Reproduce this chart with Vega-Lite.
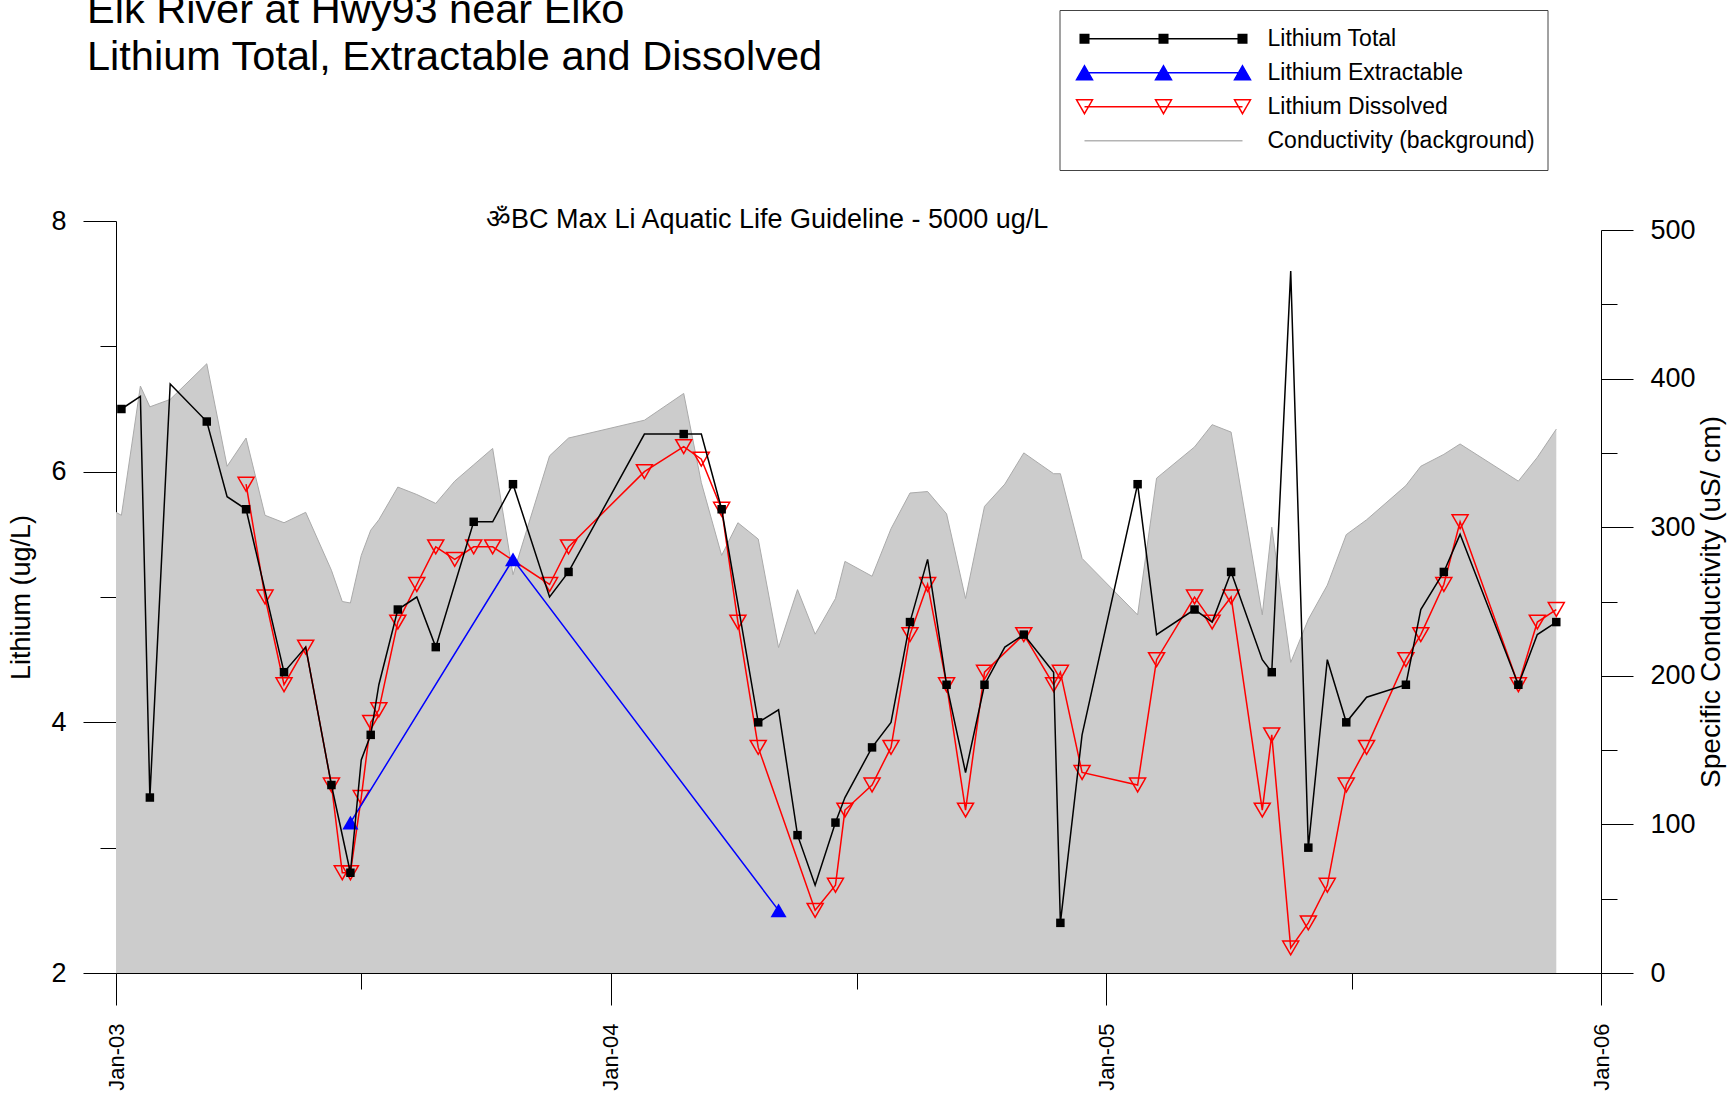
{
  "$schema": "https://vega.github.io/schema/vega-lite/v6.json",
  "width": 1485,
  "height": 752,
  "autosize": {"type": "none"},
  "padding": {"left": 116, "top": 221, "right": 127, "bottom": 120},
  "background": "#ffffff",
  "config": {
    "view": {"stroke": null},
    "font": "Liberation Sans",
    "axis": {"labelFont": "Liberation Sans", "titleFont": "Liberation Sans", "labelColor": "#000000", "titleColor": "#000000", "domainColor": "#000000", "tickColor": "#000000", "domainWidth": 1, "tickWidth": 1, "grid": false, "titleFontWeight": "normal", "zindex": 1, "labelOverlap": false, "labelFlush": false}
  },
  "title": {
    "text": ["Elk River at Hwy93 near Elko", "Lithium Total, Extractable and Dissolved"],
    "anchor": "start", "frame": "group", "orient": "top",
    "font": "Liberation Sans", "fontSize": 41.5, "fontWeight": "normal", "color": "#000000",
    "lineHeight": 47, "dx": -29, "dy": 69, "offset": 0
  },
  "datasets": {
    "samples": [
      {"date":"2003-01-01","conductivity":310},
      {"date":"2003-01-05","conductivity":308,"total":6.5,"total_marker":true},
      {"date":"2003-01-19","conductivity":395,"total":6.6,"total_marker":false},
      {"date":"2003-01-26","conductivity":381,"total":3.4,"total_marker":true},
      {"date":"2003-02-10","conductivity":386,"total":6.7,"total_marker":false},
      {"date":"2003-03-09","conductivity":410,"total":6.4,"total_marker":true},
      {"date":"2003-03-24","conductivity":341,"total":5.8,"total_marker":false},
      {"date":"2003-04-07","conductivity":360,"total":5.7,"total_marker":true,"dissolved":5.9},
      {"date":"2003-04-21","conductivity":308,"dissolved":5.0},
      {"date":"2003-05-05","conductivity":303,"total":4.4,"total_marker":true,"dissolved":4.3},
      {"date":"2003-05-21","conductivity":310,"total":4.6,"total_marker":false,"dissolved":4.6},
      {"date":"2003-06-09","conductivity":271,"total":3.5,"total_marker":true,"dissolved":3.5},
      {"date":"2003-06-17","conductivity":250,"dissolved":2.8},
      {"date":"2003-06-23","conductivity":249,"total":2.8,"total_marker":true,"dissolved":2.8,"extractable":3.2},
      {"date":"2003-07-01","conductivity":281,"total":3.7,"total_marker":false,"dissolved":3.4},
      {"date":"2003-07-08","conductivity":298,"total":3.9,"total_marker":true,"dissolved":4.0},
      {"date":"2003-07-14","conductivity":305,"total":4.3,"total_marker":false,"dissolved":4.1},
      {"date":"2003-07-28","conductivity":327,"total":4.9,"total_marker":true,"dissolved":4.8},
      {"date":"2003-08-11","conductivity":322,"total":5.0,"total_marker":false,"dissolved":5.1},
      {"date":"2003-08-25","conductivity":316,"total":4.6,"total_marker":true,"dissolved":5.4},
      {"date":"2003-09-08","conductivity":331,"dissolved":5.3},
      {"date":"2003-09-22","conductivity":342,"total":5.6,"total_marker":true,"dissolved":5.4},
      {"date":"2003-10-06","conductivity":353,"total":5.6,"total_marker":false,"dissolved":5.4},
      {"date":"2003-10-21","conductivity":268,"total":5.9,"total_marker":true,"extractable":5.3},
      {"date":"2003-11-17","conductivity":348,"total":5.0,"total_marker":false,"dissolved":5.1},
      {"date":"2003-12-01","conductivity":360,"total":5.2,"total_marker":true,"dissolved":5.4},
      {"date":"2004-01-26","conductivity":372,"total":6.3,"total_marker":false,"dissolved":6.0},
      {"date":"2004-02-24","conductivity":390,"total":6.3,"total_marker":true,"dissolved":6.2},
      {"date":"2004-03-08","conductivity":330,"total":6.3,"total_marker":false,"dissolved":6.1},
      {"date":"2004-03-23","conductivity":281,"total":5.7,"total_marker":true,"dissolved":5.7},
      {"date":"2004-04-04","conductivity":303,"dissolved":4.8},
      {"date":"2004-04-19","conductivity":292,"total":4.0,"total_marker":true,"dissolved":3.8},
      {"date":"2004-05-04","conductivity":219,"total":4.1,"total_marker":false,"extractable":2.5},
      {"date":"2004-05-18","conductivity":258,"total":3.1,"total_marker":true},
      {"date":"2004-05-31","conductivity":228,"total":2.7,"total_marker":false,"dissolved":2.5},
      {"date":"2004-06-15","conductivity":252,"total":3.2,"total_marker":true,"dissolved":2.7},
      {"date":"2004-06-22","conductivity":277,"total":3.4,"total_marker":false,"dissolved":3.3},
      {"date":"2004-07-12","conductivity":267,"total":3.8,"total_marker":true,"dissolved":3.5},
      {"date":"2004-07-26","conductivity":299,"total":4.0,"total_marker":false,"dissolved":3.8},
      {"date":"2004-08-09","conductivity":323,"total":4.8,"total_marker":true,"dissolved":4.7},
      {"date":"2004-08-22","conductivity":324,"total":5.3,"total_marker":false,"dissolved":5.1},
      {"date":"2004-09-05","conductivity":309,"total":4.3,"total_marker":true,"dissolved":4.3},
      {"date":"2004-09-19","conductivity":252,"total":3.6,"total_marker":false,"dissolved":3.3},
      {"date":"2004-10-03","conductivity":314,"total":4.3,"total_marker":true,"dissolved":4.4},
      {"date":"2004-10-18","conductivity":329,"total":4.6,"total_marker":false},
      {"date":"2004-11-01","conductivity":350,"total":4.7,"total_marker":true,"dissolved":4.7},
      {"date":"2004-11-23","conductivity":336,"total":4.4,"total_marker":false,"dissolved":4.3},
      {"date":"2004-11-28","conductivity":336,"total":2.4,"total_marker":true,"dissolved":4.4},
      {"date":"2004-12-14","conductivity":279,"total":3.9,"total_marker":false,"dissolved":3.6},
      {"date":"2005-01-24","conductivity":241,"total":5.9,"total_marker":true,"dissolved":3.5},
      {"date":"2005-02-07","conductivity":333,"total":4.7,"total_marker":false,"dissolved":4.5},
      {"date":"2005-03-07","conductivity":354,"total":4.9,"total_marker":true,"dissolved":5.0},
      {"date":"2005-03-20","conductivity":369,"total":4.8,"total_marker":false,"dissolved":4.8},
      {"date":"2005-04-03","conductivity":364,"total":5.2,"total_marker":true,"dissolved":5.0},
      {"date":"2005-04-26","conductivity":241,"total":4.5,"total_marker":false,"dissolved":3.3},
      {"date":"2005-05-03","conductivity":300,"total":4.4,"total_marker":true,"dissolved":3.9},
      {"date":"2005-05-17","conductivity":209,"total":7.6,"total_marker":false,"dissolved":2.2},
      {"date":"2005-05-30","conductivity":238,"total":3.0,"total_marker":true,"dissolved":2.4},
      {"date":"2005-06-13","conductivity":261,"total":4.5,"total_marker":false,"dissolved":2.7},
      {"date":"2005-06-27","conductivity":295,"total":4.0,"total_marker":true,"dissolved":3.5},
      {"date":"2005-07-12","conductivity":305,"total":4.2,"total_marker":false,"dissolved":3.8},
      {"date":"2005-08-10","conductivity":328,"total":4.3,"total_marker":true,"dissolved":4.5},
      {"date":"2005-08-21","conductivity":341,"total":4.9,"total_marker":false,"dissolved":4.7},
      {"date":"2005-09-07","conductivity":349,"total":5.2,"total_marker":true,"dissolved":5.1},
      {"date":"2005-09-19","conductivity":356,"total":5.5,"total_marker":false,"dissolved":5.6},
      {"date":"2005-11-01","conductivity":331,"total":4.3,"total_marker":true,"dissolved":4.3},
      {"date":"2005-11-15","conductivity":347,"total":4.7,"total_marker":false,"dissolved":4.8},
      {"date":"2005-11-29","conductivity":366,"total":4.8,"total_marker":true,"dissolved":4.9}
    ]
  },
  "data": {"name": "samples"},
  "layer": [
    {
      "transform": [{"filter": "isValid(datum.conductivity)"}],
      "mark": {"type": "area", "color": "#cccccc", "opacity": 1, "line": {"color": "#aaaaaa", "strokeWidth": 1}},
      "encoding": {
        "x": {
          "field": "date", "type": "temporal",
          "scale": {"type": "utc", "domain": [{"year": 2003, "month": 1, "date": 1, "utc": true}, {"year": 2006, "month": 1, "date": 1, "utc": true}], "nice": false},
          "axis": {
            "orient": "bottom",
            "values": [
              {"year": 2003, "month": 1, "date": 1, "utc": true},
              {"year": 2003, "month": 7, "date": 1, "utc": true},
              {"year": 2004, "month": 1, "date": 1, "utc": true},
              {"year": 2004, "month": 7, "date": 1, "utc": true},
              {"year": 2005, "month": 1, "date": 1, "utc": true},
              {"year": 2005, "month": 7, "date": 1, "utc": true},
              {"year": 2006, "month": 1, "date": 1, "utc": true}
            ],
            "labelExpr": "utcmonth(datum.value) === 0 ? utcFormat(datum.value, '%b-%y') : ''",
            "labelAngle": 270,
            "labelFontSize": 22,
            "labelPadding": 18,
            "tickSize": {"condition": {"test": "utcmonth(datum.value) === 0", "value": 32}, "value": 16},
            "title": null
          }
        },
        "y": {
          "field": "conductivity", "type": "quantitative",
          "scale": {"domain": [0, 500], "range": [752, 9], "nice": false},
          "axis": {
            "orient": "right",
            "values": [0, 50, 100, 150, 200, 250, 300, 350, 400, 450, 500],
            "labelExpr": "datum.value % 100 === 0 ? datum.label : ''",
            "tickSize": {"condition": {"test": "datum.value % 100 === 0", "value": 32}, "value": 16},
            "labelPadding": 17,
            "labelFontSize": 27,
            "title": "Specific  Conductivity  (uS/ cm)",
            "titleFontSize": 28,
            "titleAngle": 270,
            "titleBaseline": "top",
            "titlePadding": 2
          }
        }
      }
    },
    {
      "transform": [{"filter": "isValid(datum.dissolved)"}],
      "mark": {"type": "line", "color": "#ff0000", "strokeWidth": 1.5},
      "encoding": {
        "x": {"field": "date", "type": "temporal", "title": null},
        "y": {"field": "dissolved", "type": "quantitative", "scale": {"domain": [2, 8], "nice": false, "zero": false}, "axis": null}
      }
    },
    {
      "transform": [{"filter": "isValid(datum.dissolved)"}],
      "mark": {"type": "point", "shape": "triangle-down", "filled": false, "stroke": "#ff0000", "strokeWidth": 1.5, "size": 256, "opacity": 1},
      "encoding": {
        "x": {"field": "date", "type": "temporal", "title": null},
        "y": {"field": "dissolved", "type": "quantitative", "scale": {"domain": [2, 8], "nice": false, "zero": false}, "axis": null}
      }
    },
    {
      "transform": [{"filter": "isValid(datum.extractable)"}],
      "mark": {"type": "line", "color": "#0000ff", "strokeWidth": 1.5},
      "encoding": {
        "x": {"field": "date", "type": "temporal", "title": null},
        "y": {"field": "extractable", "type": "quantitative", "scale": {"domain": [2, 8], "nice": false, "zero": false}, "axis": null}
      }
    },
    {
      "transform": [{"filter": "isValid(datum.extractable)"}],
      "mark": {"type": "point", "shape": "triangle-up", "filled": true, "color": "#0000ff", "size": 256, "opacity": 1},
      "encoding": {
        "x": {"field": "date", "type": "temporal", "title": null},
        "y": {"field": "extractable", "type": "quantitative", "scale": {"domain": [2, 8], "nice": false, "zero": false}, "axis": null}
      }
    },
    {
      "transform": [{"filter": "isValid(datum.total)"}],
      "mark": {"type": "line", "strokeWidth": 1.5},
      "encoding": {
        "x": {"field": "date", "type": "temporal", "title": null},
        "y": {
          "field": "total", "type": "quantitative",
          "scale": {"domain": [2, 8], "nice": false, "zero": false},
          "axis": {
            "orient": "left",
            "values": [2, 3, 4, 5, 6, 7, 8],
            "labelExpr": "datum.value % 2 === 0 ? datum.label : ''",
            "tickSize": {"condition": {"test": "datum.value % 2 === 0", "value": 33}, "value": 16},
            "labelPadding": 17,
            "labelFontSize": 27,
            "title": "Lithium (ug/L)",
            "titleFontSize": 27,
            "titlePadding": 15
          }
        },
        "color": {
          "datum": "Lithium Total",
          "scale": {"domain": ["Lithium Total", "Lithium Extractable", "Lithium Dissolved", "Conductivity (background)"], "range": ["#000000", "#0000ff", "#ff0000", "#b4b4b4"]},
          "legend": {
            "orient": "none", "legendX": 943.5, "legendY": -211,
            "title": null,
            "symbolSize": 24964, "symbolStrokeWidth": 1.5, "symbolOffset": 12,
            "clipHeight": 33.5, "rowPadding": 0,
            "labelOffset": 24, "labelFont": "Liberation Sans", "labelFontSize": 23, "labelColor": "#000000", "labelLimit": 0,
            "padding": 12, "strokeColor": "#444444", "fillColor": "#ffffff",
            "encode": {
              "symbols": {
                "update": {
                  "shape": [
                    {"test": "datum.value === 'Lithium Total'", "value": "M-1,0H1M-1.054,-0.054H-0.946V0.054H-1.054ZM-0.054,-0.054H0.054V0.054H-0.054ZM0.946,-0.054H1.054V0.054H0.946Z"},
                    {"test": "datum.value === 'Lithium Extractable'", "value": "M-1,0H1M-1,-0.0877L-0.899,0.0877H-1.101ZM0,-0.0877L0.101,0.0877H-0.101ZM1,-0.0877L1.101,0.0877H0.899Z"},
                    {"test": "datum.value === 'Lithium Dissolved'", "value": "M-1,0H1M-1,0.0877L-0.899,-0.0877H-1.101ZM0,0.0877L0.101,-0.0877H-0.101ZM1,0.0877L1.101,-0.0877H0.899Z"},
                    {"value": "M-1,0H1"}
                  ],
                  "fill": [
                    {"test": "datum.value === 'Lithium Total'", "value": "#000000"},
                    {"test": "datum.value === 'Lithium Extractable'", "value": "#0000ff"},
                    {"value": "transparent"}
                  ],
                  "stroke": [
                    {"test": "datum.value === 'Lithium Total'", "value": "#000000"},
                    {"test": "datum.value === 'Lithium Extractable'", "value": "#0000ff"},
                    {"test": "datum.value === 'Lithium Dissolved'", "value": "#ff0000"},
                    {"value": "#b4b4b4"}
                  ],
                  "opacity": {"value": 1}
                }
              }
            }
          }
        }
      }
    },
    {
      "transform": [{"filter": "datum.total_marker === true"}],
      "mark": {"type": "point", "shape": "square", "filled": true, "color": "#000000", "size": 72, "opacity": 1},
      "encoding": {
        "x": {"field": "date", "type": "temporal", "title": null},
        "y": {"field": "total", "type": "quantitative", "scale": {"domain": [2, 8], "nice": false, "zero": false}, "axis": null}
      }
    },
    {
      "data": {"values": [{"label": "ॐBC Max Li Aquatic Life Guideline - 5000 ug/L", "guideline_ug_per_L": 5000}]},
      "mark": {"type": "text", "align": "left", "baseline": "alphabetic", "font": "Liberation Sans", "fontSize": 27, "color": "#000000", "dy": 7},
      "encoding": {
        "x": {"datum": {"year": 2003, "month": 10, "date": 1, "utc": true}, "type": "temporal", "title": null},
        "y": {"datum": 8, "type": "quantitative", "scale": {"domain": [2, 8], "nice": false, "zero": false}, "axis": null},
        "text": {"field": "label"}
      }
    }
  ],
  "resolve": {"scale": {"y": "independent"}}
}
